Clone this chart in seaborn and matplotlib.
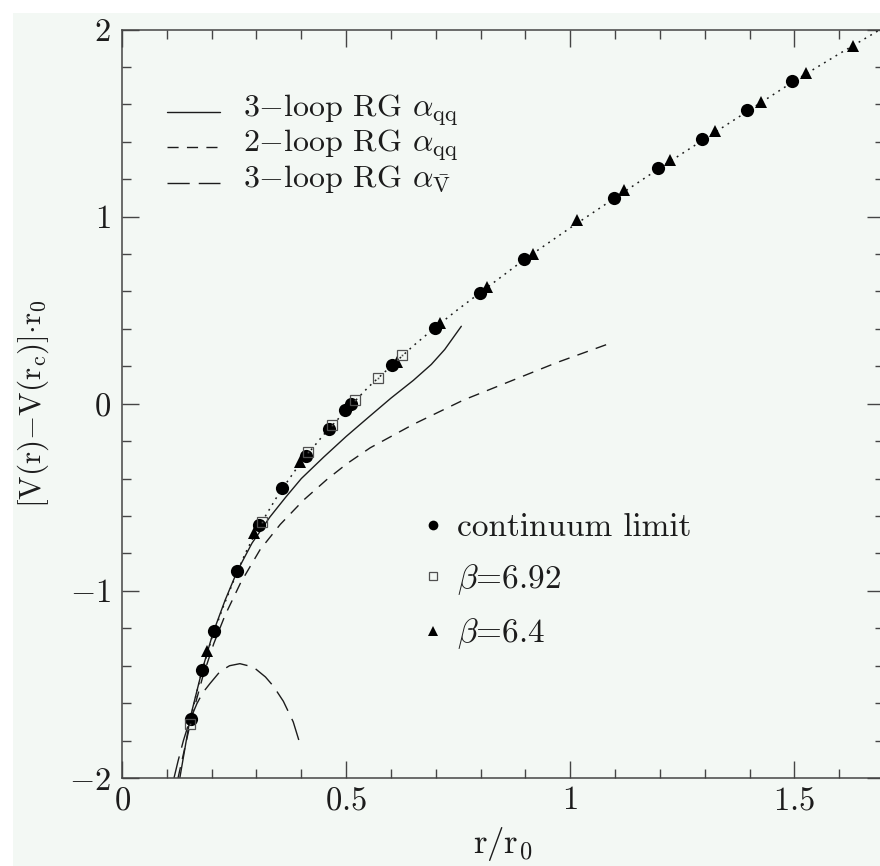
import matplotlib
matplotlib.use("Agg")
import matplotlib.pyplot as plt
import seaborn as sns
from matplotlib.lines import Line2D
from matplotlib.legend_handler import HandlerLine2D
from matplotlib.patches import Rectangle
from matplotlib.ticker import FixedLocator, MultipleLocator, FuncFormatter

# ---- static potential, continuum limit (filled circles) ----
r_cont = [0.153, 0.179, 0.205, 0.256, 0.306, 0.358, 0.410, 0.461, 0.498, 0.510,
          0.602, 0.699, 0.799, 0.896, 1.097, 1.196, 1.295, 1.394, 1.495]
v_cont = [-1.683, -1.421, -1.217, -0.894, -0.650, -0.452, -0.281, -0.133, -0.032, 0.000,
          0.206, 0.407, 0.593, 0.771, 1.099, 1.258, 1.413, 1.570, 1.725]

# ---- beta = 6.92 (open squares) ----
r_b692 = [0.152, 0.312, 0.416, 0.468, 0.520, 0.572, 0.624]
v_b692 = [-1.71, -0.63, -0.26, -0.115, 0.02, 0.14, 0.258]

# ---- beta = 6.4 (filled triangles) ----
r_b64 = [0.190, 0.295, 0.397, 0.613, 0.710, 0.814, 0.916, 1.016, 1.119, 1.222,
         1.324, 1.426, 1.527, 1.630]
v_b64 = [-1.32, -0.69, -0.31, 0.225, 0.43, 0.625, 0.80, 0.98, 1.14, 1.302,
         1.456, 1.614, 1.77, 1.912]

# ---- interpolating curve through the lattice data (dotted) ----
r_fit = [0.150, 0.175, 0.200, 0.225, 0.250, 0.275, 0.300, 0.350, 0.400, 0.450, 0.500,
         0.550, 0.600, 0.650, 0.700, 0.750, 0.800, 0.900, 1.000, 1.100, 1.200, 1.300,
         1.400, 1.500, 1.600, 1.720]
v_fit = [-1.71, -1.46, -1.255, -1.09, -0.94, -0.80, -0.68, -0.48, -0.31, -0.165, -0.035,
         0.09, 0.20, 0.31, 0.41, 0.505, 0.595, 0.775, 0.94, 1.10, 1.26, 1.415,
         1.57, 1.725, 1.87, 2.04]

# ---- perturbative curves ----
r_3loop_qq = [0.129, 0.152, 0.178, 0.203, 0.230, 0.257, 0.290, 0.330, 0.365, 0.400,
              0.450, 0.500, 0.550, 0.600, 0.650, 0.690, 0.720, 0.757]
v_3loop_qq = [-2.00, -1.68, -1.43, -1.225, -1.05, -0.895, -0.745, -0.605, -0.50, -0.40,
              -0.285, -0.175, -0.072, 0.03, 0.125, 0.21, 0.29, 0.414]

r_2loop_qq = [0.125, 0.155, 0.180, 0.205, 0.230, 0.265, 0.308, 0.353, 0.405, 0.457,
              0.502, 0.554, 0.650, 0.762, 0.866, 0.970, 1.083]
v_2loop_qq = [-2.00, -1.68, -1.46, -1.28, -1.13, -0.955, -0.78, -0.645, -0.515, -0.405,
              -0.32, -0.235, -0.11, 0.02, 0.12, 0.22, 0.318]

r_3loop_V = [0.116, 0.125, 0.137, 0.150, 0.167, 0.180, 0.196, 0.219, 0.240, 0.263,
             0.293, 0.320, 0.338, 0.360, 0.382, 0.397]
v_3loop_V = [-2.00, -1.91, -1.80, -1.70, -1.603, -1.545, -1.496, -1.43, -1.40, -1.389,
             -1.407, -1.46, -1.51, -1.59, -1.70, -1.817]

x_ticks = [0, 0.5, 1, 1.5]
y_ticks = [-2, -1, 0, 1, 2]

curve_labels = [r"3$-$loop RG $\alpha_{\rm qq}$",
                r"2$-$loop RG $\alpha_{\rm qq}$",
                r"3$-$loop RG $\alpha_{\bar{\rm V}}$"]
point_labels = ["continuum limit", r"$\beta$=6.92", r"$\beta$=6.4"]

# ---- styling ----
sns.set_theme(style="ticks")
plt.rcParams.update({
    "font.family": "serif",
    "font.serif": ["cmr10"],
    "mathtext.fontset": "cm",
    "axes.formatter.use_mathtext": True,
    "axes.unicode_minus": True,
})

PAPER = "#f3f8f4"
INK = "#1c1c1c"
AXC = "#454545"
LW = 1.0
DOT = (0, (1.2, 3.2))
SHORT = (0, (8, 6))
LONG = (0, (16, 6.5))


class BaselineLine(HandlerLine2D):
    """Legend line sample drawn near the text baseline instead of its centre."""

    def create_artists(self, legend, orig_handle, xdescent, ydescent,
                       width, height, fontsize, trans):
        return super().create_artists(legend, orig_handle, xdescent,
                                      ydescent + 0.42 * fontsize, width, height,
                                      fontsize, trans)


fig = plt.figure(figsize=(8.80, 8.66), dpi=100)
fig.patch.set_facecolor("white")
fig.add_artist(Rectangle((13 / 880, 0), 1, (866 - 13) / 866,
                         transform=fig.transFigure, facecolor=PAPER,
                         edgecolor="none", zorder=-5))

ax = fig.add_axes([122 / 880, 88 / 866, 762 / 880, 748.5 / 866])
ax.set_facecolor(PAPER)

common = dict(ax=ax, estimator=None, sort=False, legend=False, color=INK)

# theory curves
sns.lineplot(x=r_fit, y=v_fit, lw=1.1, linestyle=DOT, zorder=2, **common)
sns.lineplot(x=r_3loop_qq, y=v_3loop_qq, lw=LW, linestyle="-", zorder=2, **common)
sns.lineplot(x=r_2loop_qq, y=v_2loop_qq, lw=LW, linestyle=SHORT, zorder=2, **common)
sns.lineplot(x=r_3loop_V, y=v_3loop_V, lw=LW, linestyle=LONG, zorder=2, **common)

# lattice data
pts = dict(ax=ax, estimator=None, sort=False, legend=False, linestyle="")
sns.lineplot(x=r_b64, y=v_b64, marker="^", markersize=8.5, color="black",
             markeredgewidth=0, zorder=3, **pts)
sns.lineplot(x=r_cont, y=v_cont, marker="o", markersize=9.5, color="black",
             markeredgewidth=0, zorder=4, **pts)
sns.lineplot(x=r_b692, y=v_b692, marker="s", markersize=7, color="#505050",
             markerfacecolor="none", markeredgecolor="#505050",
             markeredgewidth=0.9, zorder=5, **pts)
sns.lineplot(x=r_b692, y=v_b692, marker="s", markersize=1.2, color="#505050",
             markeredgewidth=0, zorder=5, **pts)

# axes
ax.set_xlim(0, 1.7)
ax.set_ylim(-2, 2)
ax.xaxis.set_major_locator(FixedLocator(x_ticks))
ax.xaxis.set_minor_locator(MultipleLocator(0.1))
ax.yaxis.set_major_locator(FixedLocator(y_ticks))
ax.yaxis.set_minor_locator(MultipleLocator(0.2))
fmt = FuncFormatter(lambda v, p: f"${v:g}$")
ax.xaxis.set_major_formatter(fmt)
ax.yaxis.set_major_formatter(fmt)
ax.tick_params(which="both", direction="in", top=True, right=True,
               color=AXC, width=1.0, labelsize=23.5, labelcolor=INK)
ax.tick_params(which="major", length=12.5)
ax.tick_params(which="minor", length=6.5)
ax.tick_params(axis="x", pad=6)
ax.tick_params(axis="y", pad=8)
for s in ax.spines.values():
    s.set_color(AXC)
    s.set_linewidth(1.1)

ax.set_xlabel(r"$\mathrm{r/r_0}$", fontsize=25, color=INK)
ax.set_ylabel(r"$\mathrm{[V(r){-}V(r_c)]{\cdot}r_0}$", fontsize=22.5, color=INK)
ax.xaxis.set_label_coords(0.5, -0.063)
ax.yaxis.set_label_coords(-0.093, 0.5)

# key for the curves
curve_handles = [Line2D([], [], color=INK, lw=LW, linestyle="-"),
                 Line2D([], [], color=INK, lw=LW, linestyle=SHORT),
                 Line2D([], [], color=INK, lw=LW, linestyle=LONG)]
leg1 = ax.legend(curve_handles, curve_labels, loc="upper left",
                 bbox_to_anchor=(0.059, 0.9155), frameon=False, fontsize=23,
                 handlelength=1.65, handletextpad=0.72, labelspacing=0.0,
                 borderpad=0, borderaxespad=0,
                 handler_map={Line2D: BaselineLine()})
for t in leg1.get_texts():
    t.set_color(INK)
ax.add_artist(leg1)

# key for the data points
point_handles = [Line2D([], [], ls="", marker="o", ms=7, color="black", mew=0),
                 Line2D([], [], ls="", marker="s", ms=5.5, mfc="none",
                        mec="#505050", mew=0.9),
                 Line2D([], [], ls="", marker="^", ms=6.5, color="black", mew=0)]
leg2 = ax.legend(point_handles, point_labels, loc="upper left",
                 bbox_to_anchor=(0.391, 0.354), frameon=False, fontsize=24,
                 handlelength=0.8, handletextpad=0.3, labelspacing=0.585,
                 borderpad=0, borderaxespad=0)
for t in leg2.get_texts():
    t.set_color(INK)

fig.savefig("out.png", dpi=100)
